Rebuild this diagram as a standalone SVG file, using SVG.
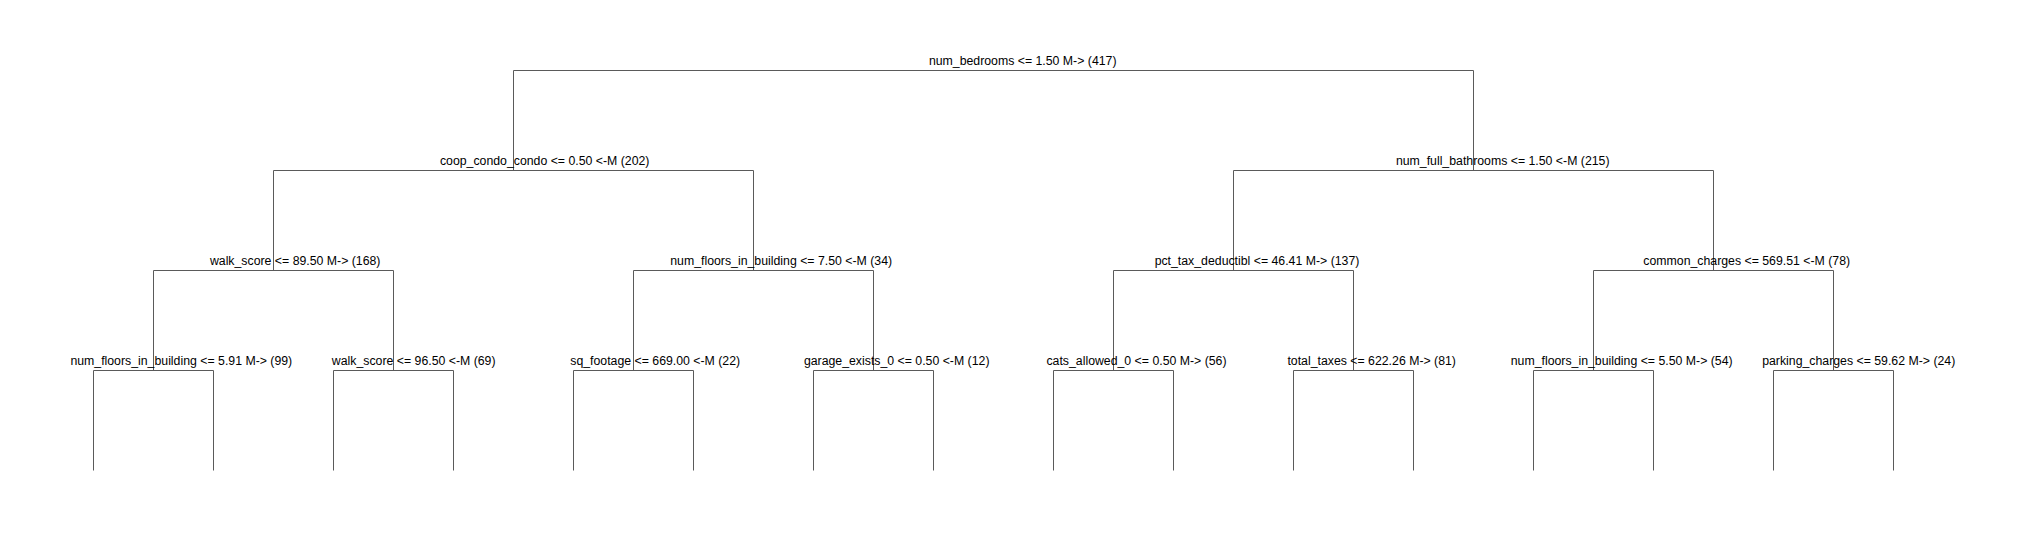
<svg xmlns="http://www.w3.org/2000/svg" width="2022" height="540" viewBox="0 0 2022 540">
<style>
.e{fill:none;stroke:#5a5a5a;stroke-width:1}
text{font-family:"Liberation Sans",Arial,sans-serif;font-size:12.3px;fill:#000;text-anchor:middle}
</style>
<rect width="2022" height="540" fill="#fff"/>
<g id="connectors">
<path class="e" d="M513.5,170.5V70.5H1473.5V170.5"/>
<path class="e" d="M273.5,270.5V170.5H753.5V270.5"/>
<path class="e" d="M1233.5,270.5V170.5H1713.5V270.5"/>
<path class="e" d="M153.5,370.5V270.5H393.5V370.5"/>
<path class="e" d="M633.5,370.5V270.5H873.5V370.5"/>
<path class="e" d="M1113.5,370.5V270.5H1353.5V370.5"/>
<path class="e" d="M1593.5,370.5V270.5H1833.5V370.5"/>
<path class="e" d="M93.5,470.5V370.5H213.5V470.5"/>
<path class="e" d="M333.5,470.5V370.5H453.5V470.5"/>
<path class="e" d="M573.5,470.5V370.5H693.5V470.5"/>
<path class="e" d="M813.5,470.5V370.5H933.5V470.5"/>
<path class="e" d="M1053.5,470.5V370.5H1173.5V470.5"/>
<path class="e" d="M1293.5,470.5V370.5H1413.5V470.5"/>
<path class="e" d="M1533.5,470.5V370.5H1653.5V470.5"/>
<path class="e" d="M1773.5,470.5V370.5H1893.5V470.5"/>
</g>
<g id="n0"><text x="1022.7" y="64.5">num_bedrooms &lt;= 1.50 M-&gt; (417)</text></g>
<g id="n1"><text x="544.7" y="164.5">coop_condo_condo &lt;= 0.50 &lt;-M (202)</text></g>
<g id="n2"><text x="1502.7" y="164.5">num_full_bathrooms &lt;= 1.50 &lt;-M (215)</text></g>
<g id="n3"><text x="295.2" y="264.5">walk_score &lt;= 89.50 M-&gt; (168)</text></g>
<g id="n4"><text x="781.2" y="264.5">num_floors_in_building &lt;= 7.50 &lt;-M (34)</text></g>
<g id="n5"><text x="1257" y="264.5">pct_tax_deductibl &lt;= 46.41 M-&gt; (137)</text></g>
<g id="n6"><text x="1746.7" y="264.5">common_charges &lt;= 569.51 &lt;-M (78)</text></g>
<g id="n7"><text x="181.3" y="364.5">num_floors_in_building &lt;= 5.91 M-&gt; (99)</text></g>
<g id="n8"><text x="413.7" y="364.5">walk_score &lt;= 96.50 &lt;-M (69)</text></g>
<g id="n9"><text x="655.2" y="364.5">sq_footage &lt;= 669.00 &lt;-M (22)</text></g>
<g id="n10"><text x="896.7" y="364.5">garage_exists_0 &lt;= 0.50 &lt;-M (12)</text></g>
<g id="n11"><text x="1136.5" y="364.5">cats_allowed_0 &lt;= 0.50 M-&gt; (56)</text></g>
<g id="n12"><text x="1371.7" y="364.5">total_taxes &lt;= 622.26 M-&gt; (81)</text></g>
<g id="n13"><text x="1621.7" y="364.5">num_floors_in_building &lt;= 5.50 M-&gt; (54)</text></g>
<g id="n14"><text x="1858.7" y="364.5">parking_charges &lt;= 59.62 M-&gt; (24)</text></g>
</svg>
